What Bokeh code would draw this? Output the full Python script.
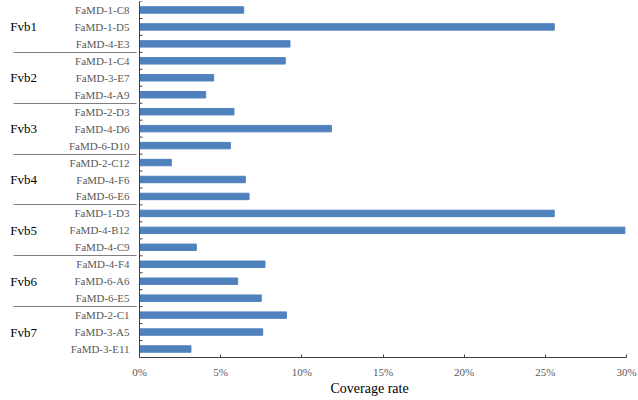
from bokeh.plotting import figure
from bokeh.models import FactorRange, Range1d, FixedTicker, PrintfTickFormatter, Title
from bokeh.embed import file_html
from bokeh.resources import INLINE

groups = ["Fvb1", "Fvb1", "Fvb1", "Fvb2", "Fvb2", "Fvb2", "Fvb3", "Fvb3", "Fvb3",
          "Fvb4", "Fvb4", "Fvb4", "Fvb5", "Fvb5", "Fvb5", "Fvb6", "Fvb6", "Fvb6",
          "Fvb7", "Fvb7", "Fvb7"]
markers = ["FaMD-1-C8", "FaMD-1-D5", "FaMD-4-E3",
           "FaMD-1-C4", "FaMD-3-E7", "FaMD-4-A9",
           "FaMD-2-D3", "FaMD-4-D6", "FaMD-6-D10",
           "FaMD-2-C12", "FaMD-4-F6", "FaMD-6-E6",
           "FaMD-1-D3", "FaMD-4-B12", "FaMD-4-C9",
           "FaMD-4-F4", "FaMD-6-A6", "FaMD-6-E5",
           "FaMD-2-C1", "FaMD-3-A5", "FaMD-3-E11"]
coverage = [6.42, 25.55, 9.27,
            8.98, 4.57, 4.08,
            5.82, 11.82, 5.60,
            1.96, 6.52, 6.75,
            25.55, 29.90, 3.50,
            7.73, 6.05, 7.50,
            9.05, 7.59, 3.17]
x_ticks = [0, 5, 10, 15, 20, 25, 30]
x_title = "Coverage rate"

# a blank middle level only spaces the group labels away from the marker labels
gap = " "
factors = [(g, gap, m) for g, m in zip(groups, markers)]
serif = "Liberation Serif"
axis_col = "#404040"
label_grey = "#595959"

p = figure(width=638, height=400, output_backend="svg", toolbar_location=None,
           y_range=FactorRange(*factors[::-1], group_padding=0, factor_padding=0,
                               subgroup_padding=0, range_padding=0),
           x_range=Range1d(0, 30),
           min_border_left=139, min_border_right=12, min_border_top=1, min_border_bottom=43)

p.hbar(y=factors, right=coverage, left=0, height=0.38, color="#4F81BD")

# small inward ticks at every category boundary
n = len(factors)
p.ray(x=[0] * n, y=list(range(1, n + 1)), length=3, length_units="screen",
      angle=0, line_color=axis_col, line_width=1)

p.outline_line_color = None
p.xgrid.grid_line_color = None
p.ygrid.grid_line_color = None

xa = p.xaxis[0]
xa.ticker = FixedTicker(ticks=x_ticks)
xa.formatter = PrintfTickFormatter(format="%d%%")
xa.axis_line_color = axis_col
xa.major_tick_line_color = axis_col
xa.major_tick_in = 3
xa.major_tick_out = 0
xa.minor_tick_line_color = None
xa.major_label_text_font = serif
xa.major_label_text_font_size = "11px"
xa.major_label_text_color = label_grey
xa.major_label_standoff = 8

p.add_layout(Title(text=x_title, align="left", offset=191, standoff=0,
                   vertical_align="top",
                   text_font=serif, text_font_size="14px", text_font_style="normal",
                   text_color="black"), "below")

ya = p.yaxis[0]
ya.axis_line_color = axis_col
ya.major_tick_line_color = None
ya.minor_tick_line_color = None
ya.major_tick_out = 0
ya.major_tick_in = 0
ya.major_label_text_font = serif
ya.major_label_text_font_size = "11px"
ya.major_label_text_color = label_grey
ya.major_label_standoff = 10
ya.subgroup_label_orientation = "horizontal"
ya.subgroup_text_font = serif
ya.subgroup_text_font_size = "24px"
ya.subgroup_text_color = label_grey
ya.group_label_orientation = "horizontal"
ya.group_text_font = serif
ya.group_text_font_size = "13px"
ya.group_text_font_style = "normal"
ya.group_text_color = "black"
ya.separator_line_color = "#7f7f7f"
ya.separator_line_width = 1

open("out.html", "w").write(file_html(p, INLINE))
